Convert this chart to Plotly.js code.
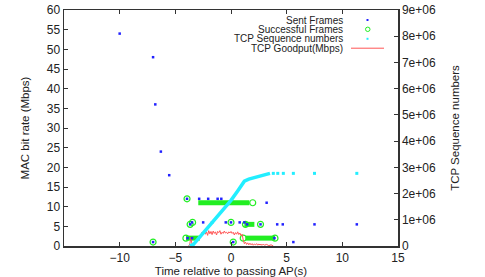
<!DOCTYPE html>
<html><head><meta charset="utf-8">
<script src="https://cdn.plot.ly/plotly-3.0.1.min.js"></script>
<style>html,body{margin:0;padding:0;background:#fff;}#chart{width:485px;height:277px;}</style>
</head><body><div id="chart"></div>
<script>
// Sent frames (time s, MAC rate Mbps)
const sentX = [-10.0,-7.0,-6.8,-6.3,-5.55,-7.0,-3.95,-2.86,-2.05,-1.2,-0.87,3.2,-3.67,-3.5,-2.5,-1.7,-0.47,0.0,0.78,1.2,1.45,2.65,4.15,4.65,7.5,11.3,-3.9,-3.5,3.9,0.2,5.6];
const sentY = [54,48,36,24,18,1,12,12,12,12,12,11,5.5,6,6,6,6,6,6,6,5.5,5.5,5.5,5.5,5.5,5.5,2,2,2,1,1];
// Successful frames: isolated points
const succX = [-7.0,-3.95,-3.67,-3.45,-4.05,0.0,0.2,1.95,1.3,2.65,1.1,3.95];
const succY = [1,12,5.5,6,2,6,1,11,5.5,5.5,2,2];
// Successful frames: dense runs (start, end, rate)
const runStart = [-2.94,-4.04,1.2,1.3];
const runEnd   = [1.65,-2.8,2.1,3.95];
const runRate  = [11,2,5.5,2];
// TCP sequence numbers (right axis)
const seqX = [-3.7,-3.4,-3.1,-2.8,-2.0,-1.0,0.0,0.6,1.2,1.6,2.2,2.8,3.3,3.5];
const seqY = [0,50000,200000,350000,750000,1250000,1740000,2100000,2470000,2550000,2630000,2710000,2760000,2770000];
const seqSparseX = [3.8,4.2,4.7,5.6,7.5,11.3];
const seqSparseY = [2770000,2770000,2770000,2770000,2770000,2770000];
// TCP goodput (Mbps)
const gpX = [-3.8,-3.7,-3.6,-3.5,-3.3,-3.1,-2.9,-2.8,-2.7,-2.6,-2.5,-2.4,-2.3,-2.2,-2.1,-2.0,-1.9,-1.8,-1.7,-1.6,-1.5,-1.4,-1.3,-1.2,-1.1,-1.0,-0.9,-0.8,-0.7,-0.6,-0.5,-0.4,-0.3,-0.2,-0.1,0.0,0.1,0.2,0.3,0.4,0.5,0.6,0.7,0.8,0.9,1.0,1.1,1.2,1.3,1.4,1.5,1.6,1.7,1.8,1.9,2.0,2.1,2.2,2.3,2.4,2.5,2.6,2.7,2.8,2.9,3.0,3.2,3.4,3.6,3.8];
const gpY = [0,0.5,2.3,0.4,0.6,1.0,2.2,2.8,2.5,3.5,2.9,3.8,3.0,3.6,2.7,3.9,3.1,3.7,2.9,3.8,3.2,3.6,2.8,3.7,3.4,3.9,3.0,3.5,3.2,3.8,3.3,3.5,3.1,3.6,3.3,3.7,3.2,3.5,2.8,3.4,3.0,3.6,2.9,3.3,2.6,3.0,1.5,0.6,1.0,0.4,0.8,0.3,0.7,0.3,0.6,0.2,0.5,0.3,0.6,0.2,0.5,0.3,0.4,0.2,0.5,0.2,0.4,0.1,0.3,0];
// Axis ticks
const xTicks = [-10,-5,0,5,10,15];
const yTicks = [0,5,10,15,20,25,30,35,40,45,50,55,60];
const y2Ticks = [0,1e6,2e6,3e6,4e6,5e6,6e6,7e6,8e6,9e6];
const y2Labels = ["0","1e+06","2e+06","3e+06","4e+06","5e+06","6e+06","7e+06","8e+06","9e+06"];
const legendNames = ["Sent Frames","Successful Frames","TCP Sequence numbers","TCP Goodput(Mbps)"];

const GREEN = '#22ee22', BLUE = '#2222ff', CYAN = '#22eeff', RED = '#ff5555';
const traces = [];
for (let i = 0; i < runStart.length; i++) {
  traces.push({x:[runStart[i],runEnd[i]], y:[runRate[i],runRate[i]], mode:'lines',
    line:{color:GREEN,width:5}, showlegend:false, hoverinfo:'skip'});
}
traces.push({x:succX, y:succY, mode:'markers', name:legendNames[1], showlegend:false,
  marker:{symbol:'circle-open', size:6, color:GREEN, line:{width:1.2,color:GREEN}}});
traces.push({x:seqX, y:seqY, yaxis:'y2', mode:'lines', line:{color:CYAN,width:3.5}, showlegend:false});
traces.push({x:seqSparseX, y:seqSparseY, yaxis:'y2', mode:'markers', showlegend:false,
  marker:{symbol:'square', size:3, color:CYAN}});
traces.push({x:gpX, y:gpY, mode:'lines', line:{color:RED,width:1}, showlegend:false});
traces.push({x:sentX, y:sentY, mode:'markers', showlegend:false,
  marker:{symbol:'square', size:2.5, color:BLUE}});

const FAM = 'Liberation Sans, Arial, sans-serif';
const tickFont = {family:FAM, size:12, color:'#222'};
const titleFont = {family:FAM, size:11.5, color:'#222'};
const legFont = {family:FAM, size:10, color:'#222'};
const legRowsPx = [20, 29.3, 38.8, 48.2];
const plotTop = 10, plotBot = 246, plotL = 64, plotR = 398;
const py = p => (plotBot - p) / (plotBot - plotTop);
const px = p => (p - plotL) / (plotR - plotL);
const annotations = legendNames.map((t,i) => ({text:t, xref:'paper', yref:'paper', x:px(344), y:py(legRowsPx[i]),
  xanchor:'right', yanchor:'middle', showarrow:false, font:legFont, borderpad:0}));
const shapes = [
  {type:'rect', xref:'paper', yref:'paper', x0:px(366.5), x1:px(368.5), y0:py(21), y1:py(19), fillcolor:BLUE, line:{width:0}},
  {type:'circle', xref:'paper', yref:'paper', x0:px(365.5), x1:px(370), y0:py(31.5), y1:py(27.1), line:{color:GREEN,width:1}},
  {type:'rect', xref:'paper', yref:'paper', x0:px(366.5), x1:px(368.5), y0:py(39.8), y1:py(37.8), fillcolor:CYAN, line:{width:0}},
  {type:'line', xref:'paper', yref:'paper', x0:px(351), x1:px(384), y0:py(48.2), y1:py(48.2), line:{color:RED,width:1}}
];

const layout = {
  width:485, height:277, margin:{l:64, r:87, t:10, b:31},
  paper_bgcolor:'#fff', plot_bgcolor:'#fff', font:tickFont, showlegend:false,
  xaxis:{range:[-15,15], tickvals:xTicks, ticks:'inside', ticklen:4, tickcolor:'#333', showgrid:false, zeroline:false,
    showline:true, linecolor:'#333', linewidth:1.5, mirror:'ticks', tickfont:tickFont,
    title:{text:'Time relative to passing AP(s)', font:titleFont, standoff:3}},
  yaxis:{range:[0,60], tickvals:yTicks, ticks:'inside', ticklen:4, tickcolor:'#333', showgrid:false, zeroline:false,
    showline:true, linecolor:'#333', linewidth:1.5, tickfont:tickFont,
    title:{text:'MAC bit rate (Mbps)', font:titleFont, standoff:14}},
  yaxis2:{range:[0,9e6], overlaying:'y', side:'right', tickvals:y2Ticks, ticktext:y2Labels, ticks:'inside', ticklen:4,
    tickcolor:'#333', showgrid:false, zeroline:false, showline:true, linecolor:'#333', linewidth:1.5, tickfont:tickFont,
    title:{text:'TCP Sequence numbers', font:titleFont, standoff:16}},
  annotations:annotations, shapes:shapes
};
Plotly.newPlot('chart', traces, layout, {staticPlot:true, displayModeBar:false});
</script></body></html>
